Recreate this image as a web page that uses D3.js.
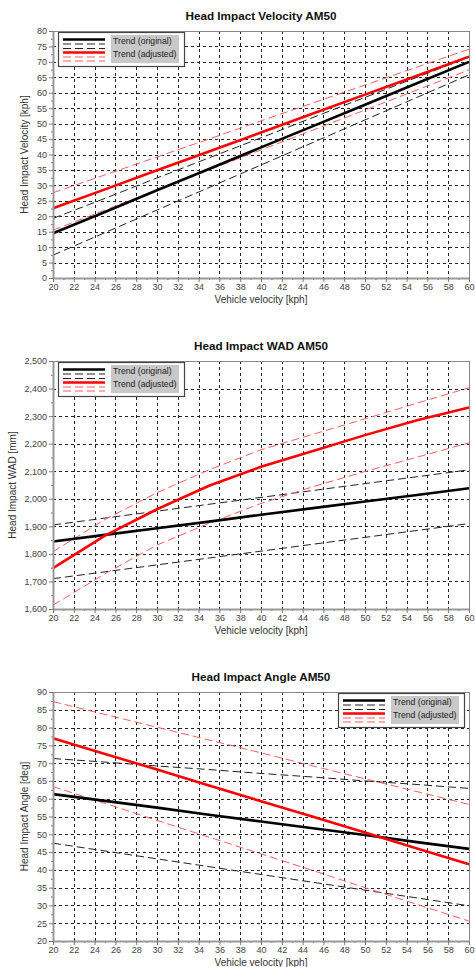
<!DOCTYPE html>
<html>
<head>
<meta charset="utf-8">
<script src="https://cdn.jsdelivr.net/npm/d3@7"></script>
<style>
  body { margin: 0; background: #fff; }
  text { font-family: "Liberation Sans", Arial, sans-serif; }
</style>
</head>
<body>
<div id="chart"></div>
<script>
// vehicle speeds the trends are sampled at [kph]
const speeds = [20, 25, 30, 35, 40, 45, 50, 55, 60];

// Head Impact Velocity [kph]
const velOrig   = [14.5, 21.4, 28.4, 35.3, 42.3, 49.2, 56.1, 63.1, 70.0];
const velOrigHi = [19.3, 25.8, 32.4, 38.9, 45.4, 52.0, 58.5, 65.0, 71.5];
const velOrigLo = [7.4, 14.7, 22.0, 29.3, 36.6, 43.9, 51.2, 58.5, 65.8];
const velAdj    = [22.6, 28.7, 34.9, 41.0, 47.1, 53.3, 59.4, 65.5, 71.7];
const velAdjHi  = [27.6, 33.4, 39.2, 45.0, 50.9, 56.7, 62.5, 68.3, 74.1];
const velAdjLo  = [15.5, 22.0, 28.5, 35.0, 41.5, 47.9, 54.4, 60.9, 67.4];

// Head Impact WAD [mm]
const wadOrig   = [1845, 1869, 1893, 1917, 1942, 1966, 1990, 2014, 2038];
const wadOrigHi = [1905, 1930, 1955, 1980, 2005, 2030, 2055, 2080, 2105];
const wadOrigLo = [1710, 1735, 1760, 1785, 1810, 1835, 1860, 1885, 1910];
const wadAdj    = [1748, 1866, 1962, 2047, 2116, 2173, 2231, 2285, 2331];
const wadAdjHi  = [1808, 1925, 2022, 2105, 2178, 2234, 2290, 2347, 2403];
const wadAdjLo  = [1614, 1728, 1832, 1911, 1983, 2044, 2099, 2151, 2203];

// Head Impact Angle [deg]
const angOrig   = [61.3, 59.4, 57.5, 55.5, 53.6, 51.7, 49.8, 47.8, 45.9];
const angOrigHi = [71.3, 70.3, 69.2, 68.2, 67.1, 66.1, 65.0, 64.0, 62.9];
const angOrigLo = [47.5, 45.3, 43.1, 40.9, 38.7, 36.5, 34.3, 32.1, 29.9];
const angAdj    = [77.0, 72.6, 68.2, 63.7, 59.3, 54.9, 50.5, 46.0, 41.6];
const angAdjHi  = [87.3, 83.7, 80.1, 76.5, 72.9, 69.2, 65.6, 62.0, 58.4];
const angAdjLo  = [63.4, 58.7, 53.9, 49.2, 44.5, 39.8, 35.0, 30.3, 25.6];

// tick labels
const xTicks = [20, 22, 24, 26, 28, 30, 32, 34, 36, 38, 40, 42, 44, 46, 48, 50, 52, 54, 56, 58, 60];
const velTicks = [0, 5, 10, 15, 20, 25, 30, 35, 40, 45, 50, 55, 60, 65, 70, 75, 80];
const wadTicks = [1600, 1700, 1800, 1900, 2000, 2100, 2200, 2300, 2400, 2500];
const angTicks = [20, 25, 30, 35, 40, 45, 50, 55, 60, 65, 70, 75, 80, 85, 90];
const legendLabels = ["Trend (original)", "Trend (adjusted)"];

const width = 475, height = 967;
const plotLeft = 53, plotRight = 469;
const RED = "#ff0000", PINK = "#ff5f5f";

const svg = d3.select("#chart")
  .append("svg")
  .attr("width", width)
  .attr("height", height);

const x = d3.scaleLinear().domain([20, 60]).range([plotLeft, plotRight]);

function drawPanel(p) {
  const y = d3.scaleLinear().domain(d3.extent(p.yTicks)).range([p.bottom, p.top]);
  const g = svg.append("g");

  // title
  g.append("text")
    .attr("x", (plotLeft + plotRight) / 2)
    .attr("y", p.top - 11)
    .attr("text-anchor", "middle")
    .attr("font-size", 11.7)
    .attr("font-weight", "bold")
    .attr("fill", "#111")
    .text(p.title);

  // grid
  g.append("g").selectAll("line")
    .data(xTicks.slice(1, -1))
    .join("line")
    .attr("x1", d => Math.round(x(d)) + 0.5).attr("x2", d => Math.round(x(d)) + 0.5)
    .attr("y1", p.top).attr("y2", p.bottom)
    .attr("stroke", "#222").attr("stroke-dasharray", "3,3");
  g.append("g").selectAll("line")
    .data(p.yTicks.slice(1, -1))
    .join("line")
    .attr("x1", plotLeft).attr("x2", plotRight)
    .attr("y1", d => Math.round(y(d)) + 0.5).attr("y2", d => Math.round(y(d)) + 0.5)
    .attr("stroke", "#222").attr("stroke-dasharray", "3,3");

  // frame
  g.append("rect")
    .attr("x", plotLeft + 0.5).attr("y", p.top + 0.5)
    .attr("width", plotRight - plotLeft).attr("height", p.bottom - p.top)
    .attr("fill", "none").attr("stroke", "#888");

  // trend lines
  const line = d3.line().x(d => x(d[0])).y(d => y(d[1]));
  p.series.forEach(s => {
    g.append("path")
      .attr("d", line(d3.zip(speeds, s.values)))
      .attr("fill", "none")
      .attr("stroke", s.color)
      .attr("stroke-width", s.dashed ? 1 : 2.6)
      .attr("stroke-dasharray", s.dashed ? "8,4" : null);
  });

  // axes
  const step = p.yTicks[1] - p.yTicks[0];
  const minorY = p.yTicks.slice(0, -1).map(d => d + step / 2);
  const minorX = xTicks.slice(0, -1).map(d => d + 1);

  g.append("g")
    .attr("transform", `translate(${plotLeft},0)`)
    .call(d3.axisLeft(y).tickValues(minorY).tickFormat("").tickSize(2))
    .call(a => a.select(".domain").remove())
    .call(a => a.selectAll("line").attr("stroke", "#777"));
  g.append("g")
    .attr("transform", `translate(0,${p.bottom})`)
    .call(d3.axisBottom(x).tickValues(minorX).tickFormat("").tickSize(2))
    .call(a => a.select(".domain").remove())
    .call(a => a.selectAll("line").attr("stroke", "#777"));

  const yAxis = g.append("g")
    .attr("transform", `translate(${plotLeft},0)`)
    .call(d3.axisLeft(y).tickValues(p.yTicks).tickFormat(p.fmt).tickSize(4).tickSizeOuter(0).tickPadding(2));
  const xAxis = g.append("g")
    .attr("transform", `translate(0,${p.bottom})`)
    .call(d3.axisBottom(x).tickValues(xTicks).tickSize(4).tickSizeOuter(0).tickPadding(2));
  [yAxis, xAxis].forEach(a => {
    a.select(".domain").attr("stroke", "#999").attr("stroke-width", 2);
    a.selectAll(".tick line").attr("stroke", "#777");
    a.selectAll("text").attr("font-size", 9).attr("fill", "#444")
      .attr("font-family", "'Liberation Sans', Arial, sans-serif");
  });

  // axis titles
  g.append("text")
    .attr("x", (plotLeft + plotRight) / 2)
    .attr("y", p.bottom + 25)
    .attr("text-anchor", "middle")
    .attr("font-size", 10)
    .attr("fill", "#333")
    .text("Vehicle velocity [kph]");
  g.append("text")
    .attr("transform", `translate(${p.yLabelX},${(p.top + p.bottom) / 2}) rotate(-90)`)
    .attr("text-anchor", "middle")
    .attr("font-size", 10)
    .attr("fill", "#333")
    .text(p.yLabel);

  // legend
  const lx = p.legendRight ? plotRight - 131 : plotLeft + 5;
  const ly = p.top + 1;
  const lg = g.append("g").attr("transform", `translate(${lx},${ly})`);
  lg.append("rect")
    .attr("x", 0.5).attr("y", 0.5).attr("width", 126).attr("height", 34)
    .attr("fill", "#fff").attr("stroke", "#444").attr("stroke-width", 1.2);
  lg.append("rect")
    .attr("x", 53).attr("y", 3).attr("width", 68).attr("height", 28)
    .attr("fill", "#c8c8c8");
  const rows = [
    { y: 7.5, color: "#000", dashed: false },
    { y: 12, color: "#222", dashed: true },
    { y: 16.5, color: "#222", dashed: true },
    { y: 20.5, color: RED, dashed: false },
    { y: 25, color: PINK, dashed: true },
    { y: 29, color: PINK, dashed: true }
  ];
  lg.selectAll("line.key")
    .data(rows)
    .join("line")
    .attr("class", "key")
    .attr("x1", 5).attr("x2", 47)
    .attr("y1", d => d.y).attr("y2", d => d.y)
    .attr("stroke", d => d.color)
    .attr("stroke-width", d => d.dashed ? 1 : 2.4)
    .attr("stroke-dasharray", d => d.dashed ? "8,4" : null);
  lg.selectAll("text")
    .data(legendLabels)
    .join("text")
    .attr("x", 55)
    .attr("y", (d, i) => 12 + i * 12.7)
    .attr("font-size", 8.7)
    .attr("fill", "#222")
    .text(d => d);
}

function seriesOf(orig, origHi, origLo, adj, adjHi, adjLo) {
  return [
    { values: origHi, color: "#222", dashed: true },
    { values: origLo, color: "#222", dashed: true },
    { values: adjHi, color: PINK, dashed: true },
    { values: adjLo, color: PINK, dashed: true },
    { values: orig, color: "#000", dashed: false },
    { values: adj, color: RED, dashed: false }
  ];
}

drawPanel({
  title: "Head Impact Velocity AM50",
  yLabel: "Head Impact Velocity [kph]",
  top: 31, bottom: 278, yLabelX: 28,
  yTicks: velTicks, fmt: d3.format("d"),
  legendRight: false,
  series: seriesOf(velOrig, velOrigHi, velOrigLo, velAdj, velAdjHi, velAdjLo)
});

drawPanel({
  title: "Head Impact WAD AM50",
  yLabel: "Head Impact WAD [mm]",
  top: 361, bottom: 609, yLabelX: 16,
  yTicks: wadTicks, fmt: d3.format(","),
  legendRight: false,
  series: seriesOf(wadOrig, wadOrigHi, wadOrigLo, wadAdj, wadAdjHi, wadAdjLo)
});

drawPanel({
  title: "Head Impact Angle AM50",
  yLabel: "Head Impact Angle [deg]",
  top: 692, bottom: 941, yLabelX: 28,
  yTicks: angTicks, fmt: d3.format("d"),
  legendRight: true,
  series: seriesOf(angOrig, angOrigHi, angOrigLo, angAdj, angAdjHi, angAdjLo)
});
</script>
</body>
</html>
